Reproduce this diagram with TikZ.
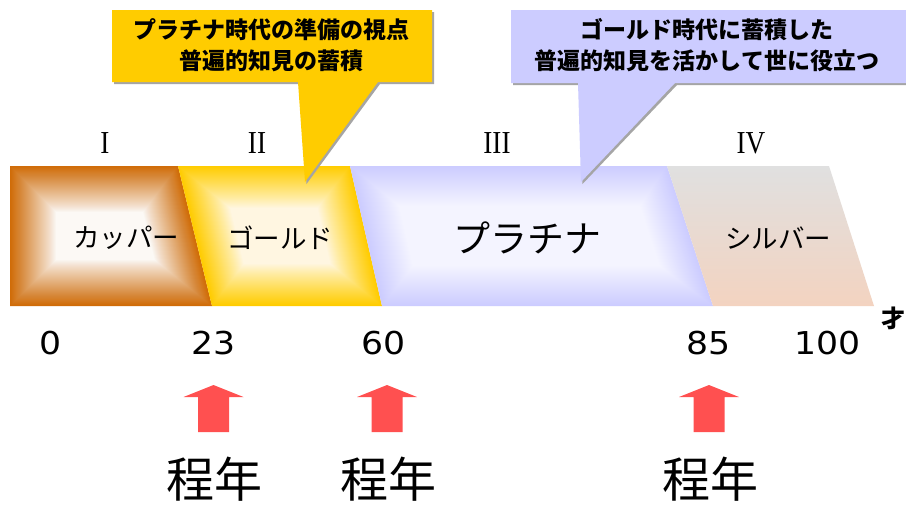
\documentclass[tikz,border=0pt]{standalone}
\usepackage{fontspec}
\newfontfamily\jpfont{Noto Sans CJK JP}
\newfontfamily\numfont{DejaVu Sans}
\newfontfamily\romfont{Liberation Serif}
\definecolor{copperc}{RGB}{208,108,8}
\definecolor{goldc}{RGB}{255,204,0}
\definecolor{platc}{RGB}{204,204,255}
\definecolor{silvertop}{RGB}{224,224,224}
\definecolor{silverbot}{RGB}{243,211,192}
\definecolor{arrowred}{RGB}{255,80,80}
\definecolor{shadowc}{RGB}{165,165,165}
% #1 TLx, #2 TRx, #3 BRx, #4 BLx, #5 colour, #6 steps, #7 max white, #8 step size
\newcommand\bevelshape[8]{%
  \fill[#5] (#1,166) -- (#2,166) -- (#3,306) -- (#4,306) -- cycle;
  \foreach \k in {1,...,#6}{%
    \pgfmathsetmacro\kk{\k*#8}%
    \pgfmathsetmacro\wprev{#7*(\k-1)/#6}%
    \pgfmathsetmacro\wcur{#7*\k/#6}%
    \pgfmathsetmacro\aa{1-(1-\wcur)/(1-\wprev)}%
    \pgfmathsetmacro\ty{166+\kk}%
    \pgfmathsetmacro\by{306-\kk}%
    \pgfmathsetmacro\tl{#1+(#4-#1)*\kk/140+\kk}%
    \pgfmathsetmacro\bl{#1+(#4-#1)*(140-\kk)/140+\kk}%
    \pgfmathsetmacro\tr{#2+(#3-#2)*\kk/140-\kk}%
    \pgfmathsetmacro\br{#2+(#3-#2)*(140-\kk)/140-\kk}%
    \fill[white,opacity=\aa] (\tl,\ty) -- (\tr,\ty) -- (\br,\by) -- (\bl,\by) -- cycle;
  }%
}
\tikzset{
  romlabel/.style={font=\romfont\fontsize{32}{32}\selectfont, xscale=0.85, inner sep=0pt},
  barlabel/.style={font=\jpfont\fontsize{26.5}{26.5}\selectfont, inner sep=0pt},
  agelabel/.style={font=\numfont\fontsize{31.5}{31.5}\selectfont, xscale=1.1, inner sep=0pt},
  calltext/.style={font=\jpfont\bfseries\fontsize{23}{31}\selectfont, align=center, inner sep=0pt},
  timelabel/.style={font=\jpfont\fontsize{48}{48}\selectfont, inner sep=0pt},
  uparrow/.style={fill=arrowred},
}
\begin{document}
\begin{tikzpicture}[x=1pt,y=-1pt]
\useasboundingbox (0,0) rectangle (906,506);
\clip (0,0) rectangle (906,506);
\fill[white] (0,0) rectangle (906,506);

% bar segments
\bevelshape{10}{178}{212}{10}{copperc}{46}{0.97}{1}
\bevelshape{178}{350}{382}{212}{goldc}{42}{0.9}{1}
\bevelshape{350}{667}{713}{382}{platc}{40}{0.87}{1}
\shade[top color=silvertop, bottom color=silverbot] (667,166) -- (829,166) -- (874,306) -- (713,306) -- cycle;

% roman numerals
\node[romlabel] (r1) at (105,143.5) {I};
\node[romlabel] (r2) at (257,143.5) {II};
\node[romlabel] (r3) at (497,143.5) {III};
\node[romlabel] (r4) at (751,143.5) {IV};

% bar labels
\node[barlabel] (copper) at (126,238) {カッパー};
\node[barlabel] (gold) at (280,238) {ゴールド};
\node[barlabel, font=\jpfont\fontsize{37}{37}\selectfont] (plat) at (527,238) {プラチナ};
\node[barlabel] (silver) at (778,238) {シルバー};

% callout 1
\fill[shadowc] (114,12) -- (434,12) -- (434,84) -- (380,84) -- (306.5,184) -- (300,84) -- (114,84) -- cycle;
\fill[goldc] (112,10) -- (432,10) -- (432,82) -- (378,82) -- (305,182) -- (298,82) -- (112,82) -- cycle;
\node[calltext] (c1) at (271,45.5) {プラチナ時代の準備の視点\\普遍的知見の蓄積};

% callout 2
\fill[shadowc] (513,12) -- (912,12) -- (912,85) -- (677,85) -- (582.5,184) -- (580,85) -- (513,85) -- cycle;
\fill[platc] (511,10) -- (910,10) -- (910,83) -- (675,83) -- (581,182) -- (578,83) -- (511,83) -- cycle;
\node[calltext] (c2) at (707,45.5) {ゴールド時代に蓄積した\\普遍的知見を活かして世に役立つ};

% ages
\node[agelabel] (a0) at (50.5,343.5) {0};
\node[agelabel] (a23) at (213.5,343.5) {23};
\node[agelabel] (a60) at (384,343.5) {60};
\node[agelabel] (a85) at (709,343.5) {85};
\node[agelabel] (a100) at (827.5,343.5) {100};
\node[font=\jpfont\bfseries\fontsize{24}{24}\selectfont, anchor=west, inner sep=0pt] (sai) at (881,318) {才};

% arrows
\foreach \cx/\nm in {213.5/u1, 387/u2, 709/u3}{
  \fill[uparrow] (\cx,385) -- (\cx+30,397) -- (\cx+15.5,397) -- (\cx+15.5,432) -- (\cx-15.5,432) -- (\cx-15.5,397) -- (\cx-30,397) -- cycle;
}

% time labels
\node[timelabel] (t1) at (214,479) {程年};
\node[timelabel] (t2) at (388,479) {程年};
\node[timelabel] (t3) at (710,479) {程年};
\end{tikzpicture}
\end{document}
